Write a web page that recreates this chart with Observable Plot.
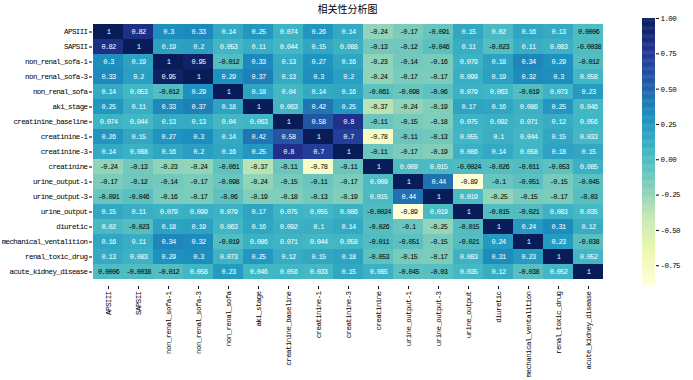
<!DOCTYPE html>
<html>
<head>
<meta charset="utf-8">
<script src="https://cdn.jsdelivr.net/npm/d3@7"></script>
<script src="https://cdn.jsdelivr.net/npm/@observablehq/plot@0.6"></script>
<style>
  html, body { margin: 0; padding: 0; background: #fff; }
  #wrap { position: relative; width: 693px; height: 380px; }
  #title { position: absolute; top: 1px; left: 92px; width: 511px; text-align: center;
           font-family: "Noto Sans CJK SC", sans-serif; font-size: 10px; color: #000; }
  #main, #cbar { position: absolute; top: 0; }
  #main { left: 0; }
  #cbar { left: 642px; }
  svg text { letter-spacing: -0.6px; }
  .celltext text { letter-spacing: -0.7px; }
</style>
</head>
<body>
<div id="wrap">
  <div id="main"></div>
  <div id="cbar"></div>
  <div id="title">相关性分析图</div>
</div>
<script>
const variables = ["APSIII","SAPSII","non_renal_sofa-1","non_renal_sofa-3","non_renal_sofa","aki_stage",
  "creatinine_baseline","creatinine-1","creatinine-3","creatinine","urine_output-1","urine_output-3",
  "urine_output","diuretic","mechanical_ventalition","renal_toxic_drug","acute_kidney_disease"];

const rowAPSIII   = [1, 0.82, 0.3, 0.33, 0.14, 0.25, 0.074, 0.26, 0.14, -0.24, -0.17, -0.091, 0.15, 0.02, 0.16, 0.13, 0.0006];
const rowSAPSII   = [0.82, 1, 0.19, 0.2, 0.053, 0.11, 0.044, 0.15, 0.088, -0.13, -0.12, -0.046, 0.11, -0.023, 0.11, 0.083, -0.0038];
const rowNrs1     = [0.3, 0.19, 1, 0.95, -0.012, 0.33, 0.13, 0.27, 0.16, -0.23, -0.14, -0.16, 0.079, 0.18, 0.34, 0.29, -0.012];
const rowNrs3     = [0.33, 0.2, 0.95, 1, 0.29, 0.37, 0.13, 0.3, 0.2, -0.24, -0.17, -0.17, 0.099, 0.19, 0.32, 0.3, 0.058];
const rowNrs      = [0.14, 0.053, -0.012, 0.29, 1, 0.18, 0.04, 0.14, 0.16, -0.061, -0.098, -0.06, 0.079, 0.063, -0.019, 0.073, 0.23];
const rowAki      = [0.25, 0.11, 0.33, 0.37, 0.18, 1, 0.063, 0.42, 0.25, -0.37, -0.24, -0.19, 0.17, 0.16, 0.086, 0.25, 0.046];
const rowCrBase   = [0.074, 0.044, 0.13, 0.13, 0.04, 0.063, 1, 0.58, 0.8, -0.11, -0.15, -0.18, 0.075, 0.092, 0.071, 0.12, 0.056];
const rowCr1      = [0.26, 0.15, 0.27, 0.3, 0.14, 0.42, 0.58, 1, 0.7, -0.78, -0.11, -0.13, 0.055, 0.1, 0.044, 0.15, 0.033];
const rowCr3      = [0.14, 0.088, 0.16, 0.2, 0.16, 0.25, 0.8, 0.7, 1, -0.11, -0.17, -0.19, 0.086, 0.14, 0.058, 0.18, 0.15];
const rowCr       = [-0.24, -0.13, -0.23, -0.24, -0.061, -0.37, -0.11, -0.78, -0.11, 1, 0.009, 0.015, -0.0024, -0.026, -0.011, -0.053, 0.085];
const rowUo1      = [-0.17, -0.12, -0.14, -0.17, -0.098, -0.24, -0.15, -0.11, -0.17, 0.009, 1, 0.44, -0.89, -0.1, -0.051, -0.15, -0.045];
const rowUo3      = [-0.091, -0.046, -0.16, -0.17, -0.06, -0.19, -0.18, -0.13, -0.19, 0.015, 0.44, 1, 0.019, -0.25, -0.15, -0.17, -0.03];
const rowUo       = [0.15, 0.11, 0.079, 0.099, 0.079, 0.17, 0.075, 0.055, 0.086, -0.0024, -0.89, 0.019, 1, -0.015, -0.021, 0.083, 0.035];
const rowDiuretic = [0.02, -0.023, 0.18, 0.19, 0.063, 0.16, 0.092, 0.1, 0.14, -0.026, -0.1, -0.25, -0.015, 1, 0.24, 0.31, 0.12];
const rowMv       = [0.16, 0.11, 0.34, 0.32, -0.019, 0.086, 0.071, 0.044, 0.058, -0.011, -0.051, -0.15, -0.021, 0.24, 1, 0.23, -0.038];
const rowRtd      = [0.13, 0.083, 0.29, 0.3, 0.073, 0.25, 0.12, 0.15, 0.18, -0.053, -0.15, -0.17, 0.083, 0.31, 0.23, 1, 0.052];
const rowAkd      = [0.0006, -0.0038, -0.012, 0.058, 0.23, 0.046, 0.056, 0.033, 0.15, 0.085, -0.045, -0.03, 0.035, 0.12, -0.038, 0.052, 1];

const matrix = [rowAPSIII, rowSAPSII, rowNrs1, rowNrs3, rowNrs, rowAki, rowCrBase, rowCr1, rowCr3,
  rowCr, rowUo1, rowUo3, rowUo, rowDiuretic, rowMv, rowRtd, rowAkd];

const colorbarTicks = [1, 0.75, 0.5, 0.25, 0, -0.25, -0.5, -0.75];
const ylgnbu = ["#ffffd9","#edf8b1","#c7e9b4","#7fcdbb","#41b6c4","#1d91c0","#225ea8","#253494","#081d58"];

const cells = [];
matrix.forEach((row, i) => row.forEach((v, j) => cells.push({row: variables[i], col: variables[j], value: v})));

const vmin = d3.min(cells, d => d.value);
const vmax = d3.max(cells, d => d.value);
const colorDomain = ylgnbu.map((_, k) => vmin + (vmax - vmin) * k / (ylgnbu.length - 1));
const colorOpts = {type: "linear", domain: colorDomain, range: ylgnbu, interpolate: "rgb"};
const fmt = d3.format(".2~g");
const labelFont = "Liberation Mono, DejaVu Sans Mono, monospace";

const main = Plot.plot({
  width: 693,
  height: 380,
  marginLeft: 92,
  marginRight: 90,
  marginTop: 17,
  marginBottom: 94,
  style: {fontFamily: labelFont, fontSize: "7.5px", color: "#000", background: "transparent"},
  x: {type: "band", domain: variables, padding: 0, label: null, tickRotate: -90, tickSize: 3, tickPadding: 2},
  y: {type: "band", domain: variables, padding: 0, label: null, tickSize: 3, tickPadding: 2},
  color: colorOpts,
  marks: [
    Plot.cell(cells, {x: "col", y: "row", fill: "value", inset: 0}),
    Plot.text(cells, {x: "col", y: "row", text: d => fmt(d.value).replace("−", "-"),
      fill: d => d.value > 0.005 ? "white" : "black", fontSize: 7, fontFamily: labelFont, className: "celltext"})
  ]
});
document.getElementById("main").appendChild(main);

const step = (vmax - vmin) / 300;
const ramp = d3.range(vmin, vmax, step);
const cbar = Plot.plot({
  width: 51,
  height: 380,
  marginLeft: 0,
  marginRight: 38,
  marginTop: 18,
  marginBottom: 95,
  style: {fontFamily: labelFont, fontSize: "7.5px", color: "#000", background: "transparent"},
  x: {domain: [0, 1], axis: null},
  y: {domain: [vmin, vmax], axis: "right", ticks: colorbarTicks, tickFormat: d => d3.format(".2f")(d).replace("−", "-"), tickSize: 3, tickPadding: 2, label: null},
  color: colorOpts,
  marks: [
    Plot.rect(ramp, {x1: 0, x2: 1, y1: d => d, y2: d => Math.min(d + step * 1.5, vmax), fill: d => d})
  ]
});
document.getElementById("cbar").appendChild(cbar);
</script>
</body>
</html>
